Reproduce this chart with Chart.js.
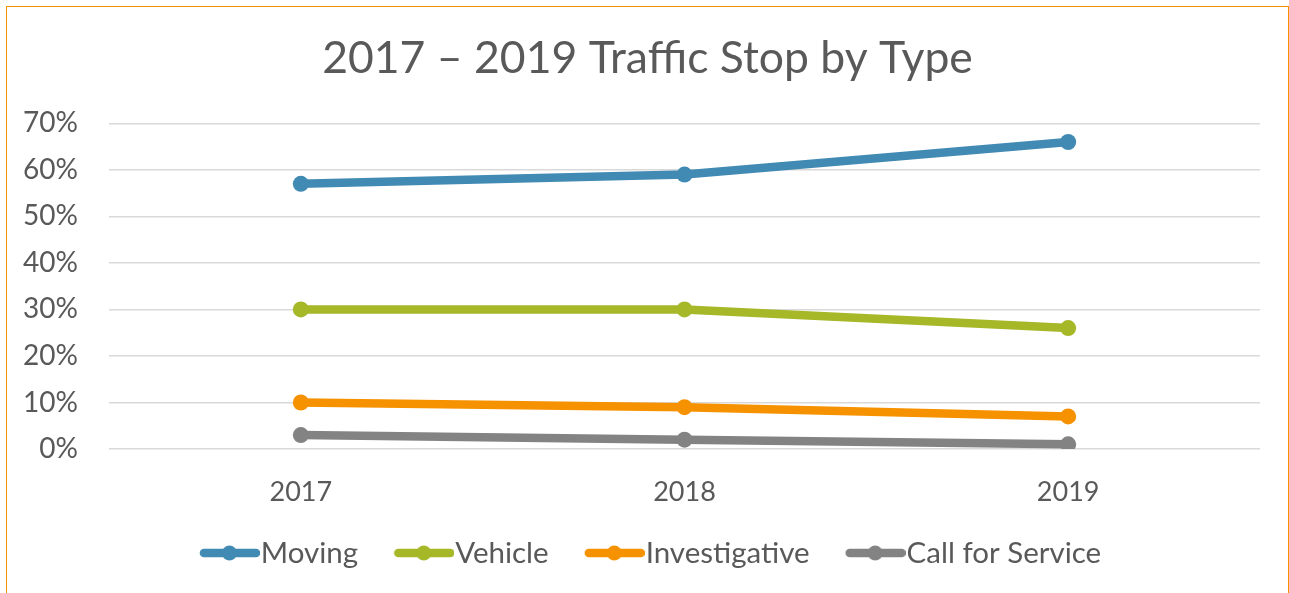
<!DOCTYPE html>
<html>
<head>
<meta charset="utf-8">
<script src="https://cdn.jsdelivr.net/npm/chart.js@4/dist/chart.umd.min.js"></script>
<style>
  html, body { margin: 0; padding: 0; background: #fff; overflow: hidden; }
  #frame { position: absolute; left: 6px; top: 6px; width: 1283px; height: 700px; box-sizing: border-box; border: 1.5px solid #F69200; }
  #c { position: absolute; left: 7px; top: 7px; }
</style>
</head>
<body>
<div id="frame"></div>
<canvas id="c" width="1281" height="586"></canvas>
<script>
const titleText = '2017 – 2019 Traffic Stop by Type';
const categories = ['2017', '2018', '2019'];
const seriesNames = ['Moving', 'Vehicle', 'Investigative', 'Call for Service'];
const moving = [57, 59, 66];
const vehicle = [30, 30, 26];
const investigative = [10, 9, 7];
const callForService = [3, 2, 1];
const seriesColors = ['#418AB3', '#A6B727', '#F69200', '#838383'];
const yMax = 70;
const yStep = 10;

const FONT = 'Lato';
const TEXT = '#595959';
const LEGEND_FS = 29.5;

// legend icon: visible line+dot (60px) sits at the right end of a wider transparent image
function legendIcon(color) {
  const cv = document.createElement('canvas');
  cv.width = 80; cv.height = 18;
  const g = cv.getContext('2d');
  g.strokeStyle = color; g.lineWidth = 8.5; g.lineCap = 'round';
  g.beginPath(); g.moveTo(24, 9); g.lineTo(76, 9); g.stroke();
  g.fillStyle = color;
  g.beginPath(); g.arc(49.5, 9, 7.5, 0, Math.PI * 2); g.fill();
  return cv;
}

const values = [moving, vehicle, investigative, callForService];
const datasets = seriesNames.map((name, i) => ({
  label: name,
  data: values[i],
  borderColor: seriesColors[i],
  backgroundColor: seriesColors[i],
  borderWidth: 8.5,
  borderCapStyle: 'round',
  borderJoinStyle: 'round',
  pointRadius: 8,
  pointHoverRadius: 8,
  pointBorderWidth: 0,
  pointBackgroundColor: seriesColors[i],
  pointStyle: 'circle',
  tension: 0,
  yAxisID: 'y'
}));
const icons = seriesColors.map(legendIcon);

new Chart(document.getElementById('c'), {
  type: 'line',
  data: { labels: categories, datasets },
  options: {
    responsive: false,
    animation: false,
    layout: { padding: { left: 0, right: 0, top: 0, bottom: 15.25 } },
    plugins: {
      tooltip: { enabled: false },
      title: {
        display: true,
        text: titleText,
        color: TEXT,
        font: { family: FONT, size: 44.5, weight: 'normal' },
        padding: { top: 25, bottom: 38 }
      },
      legend: {
        position: 'bottom',
        labels: {
          color: TEXT,
          font: { family: FONT, size: LEGEND_FS },
          usePointStyle: true,
          pointStyleWidth: 52.25,
          padding: 30,
          generateLabels(chart) {
            return chart.data.datasets.map((d, i) => ({
              text: d.label,
              fillStyle: d.borderColor,
              strokeStyle: d.borderColor,
              lineWidth: 0,
              pointStyle: icons[i],
              fontColor: TEXT,
              datasetIndex: i,
              hidden: false
            }));
          }
        }
      }
    },
    scales: {
      x: {
        offset: true,
        grid: { display: false, drawTicks: false },
        border: { display: false },
        ticks: { color: TEXT, font: { family: FONT, size: 27 }, padding: 27 },
        afterFit(s) { s.height = 59.25; }
      },
      y: {
        min: 0,
        max: yMax,
        ticks: {
          stepSize: yStep,
          color: TEXT,
          font: { family: FONT, size: 28 },
          padding: 31,
          callback: v => v + '%'
        },
        grid: { color: '#D9D9D9', lineWidth: 1.5, drawTicks: false },
        border: { display: false },
        afterFit(s) { s.width = 102; }
      },
      yRightMargin: {
        position: 'right',
        display: true,
        grid: { display: false, drawTicks: false },
        border: { display: false },
        ticks: { display: false },
        afterFit(s) { s.width = 28; }
      }
    }
  }
});
</script>
</body>
</html>
